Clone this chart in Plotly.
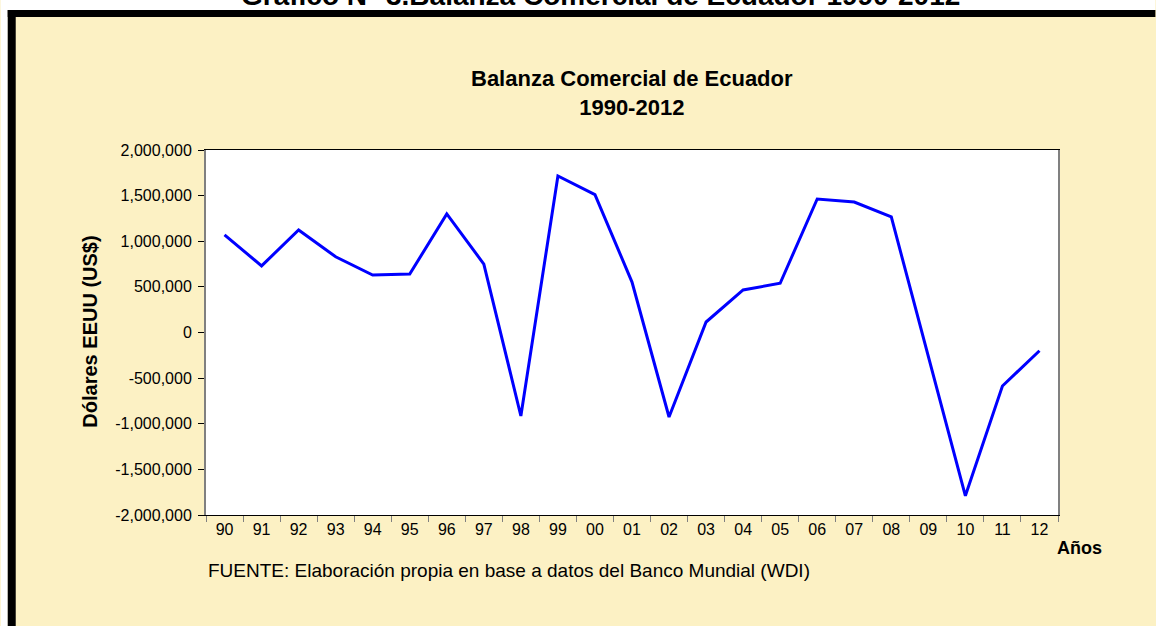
import plotly.graph_objects as go

years = ["90", "91", "92", "93", "94", "95", "96", "97", "98", "99", "00", "01",
         "02", "03", "04", "05", "06", "07", "08", "09", "10", "11", "12"]
balance = [1070000, 730000, 1123000, 830000, 630000, 640000, 1300000, 750000,
           -915000, 1715000, 1510000, 553000, -926000, 115000, 466000, 540000,
           1463000, 1430000, 1266000, -270000, -1790000, -586000, -200000]
ytick_vals = [2000000, 1500000, 1000000, 500000, 0, -500000, -1000000, -1500000, -2000000]
ytick_text = ["2,000,000", "1,500,000", "1,000,000", "500,000", "0", "-500,000",
              "-1,000,000", "-1,500,000", "-2,000,000"]

W, H = 1156, 626
L, R, T, B = 205.5, 1058.5, 150, 515
pw, ph = R - L, B - T

def px(x):
    return (x - L) / pw

def py(y):
    return (B - y) / ph

fig = go.Figure()
fig.add_trace(go.Scatter(x=years, y=balance, mode="lines",
                         line=dict(color="#0000FF", width=3), hoverinfo="skip"))

bg = "#FCF1C4"
fig.update_layout(
    width=W, height=H,
    margin=dict(l=L, r=W - R, t=T, b=H - B, pad=0),
    paper_bgcolor=bg, plot_bgcolor="white",
    showlegend=False,
    font=dict(family="Arial, Liberation Sans, sans-serif", color="black"),
    xaxis=dict(type="category", range=[-0.5, 22.5], tickson="boundaries",
               ticks="outside", ticklen=6, tickcolor="#808080", tickwidth=1,
               showline=True, linecolor="black", linewidth=1, mirror=True,
               showgrid=False, zeroline=False, tickfont=dict(size=16),
               fixedrange=True),
    yaxis=dict(range=[-2000000, 2000000], tickvals=ytick_vals, ticktext=ytick_text,
               ticks="outside", ticklen=6, tickcolor="black", tickwidth=1,
               ticklabelstandoff=3,
               showline=True, linecolor="#808080", linewidth=2, mirror=True,
               showgrid=False, zeroline=False, tickfont=dict(size=16),
               fixedrange=True),
    shapes=[
        dict(type="rect", xref="paper", yref="paper", x0=px(0), x1=px(W), y0=py(0), y1=py(10),
             fillcolor="white", line=dict(width=0)),
        dict(type="rect", xref="paper", yref="paper", x0=px(0), x1=px(7), y0=py(0), y1=py(H),
             fillcolor="white", line=dict(width=0)),
        dict(type="rect", xref="paper", yref="paper", x0=px(7), x1=px(W), y0=py(10), y1=py(17),
             fillcolor="black", line=dict(width=0)),
        dict(type="rect", xref="paper", yref="paper", x0=px(7), x1=px(15), y0=py(10), y1=py(H),
             fillcolor="black", line=dict(width=0)),
    ],
    annotations=[
        dict(text="<b>Gráfico N° 3.Balanza Comercial de Ecuador 1990-2012</b>",
             xref="paper", yref="paper", x=px(600), y=py(-4), xanchor="center",
             yanchor="middle", showarrow=False, font=dict(size=28, color="black")),
        dict(text="<b>Balanza Comercial de Ecuador</b><br><b>1990-2012</b>",
             xref="paper", yref="paper", x=px(632), y=py(93), xanchor="center",
             yanchor="middle", showarrow=False, font=dict(size=22, color="black")),
        dict(text="<b>Dólares EEUU (US$)</b>", textangle=-90,
             xref="paper", yref="paper", x=px(89), y=py(332), xanchor="center",
             yanchor="middle", showarrow=False, font=dict(size=20, color="black")),
        dict(text="<b>Años</b>", xref="paper", yref="paper", x=px(1055), y=py(548),
             xanchor="left", yanchor="middle", showarrow=False,
             font=dict(size=18, color="black")),
        dict(text="FUENTE: Elaboración propia en base a datos del Banco Mundial (WDI)",
             xref="paper", yref="paper", x=px(206), y=py(570), xanchor="left",
             yanchor="middle", showarrow=False, font=dict(size=19, color="black")),
    ],
)

fig.write_html("out.html", config={"displayModeBar": False},
               post_script="document.body.style.margin='0';document.body.style.overflow='hidden';")
